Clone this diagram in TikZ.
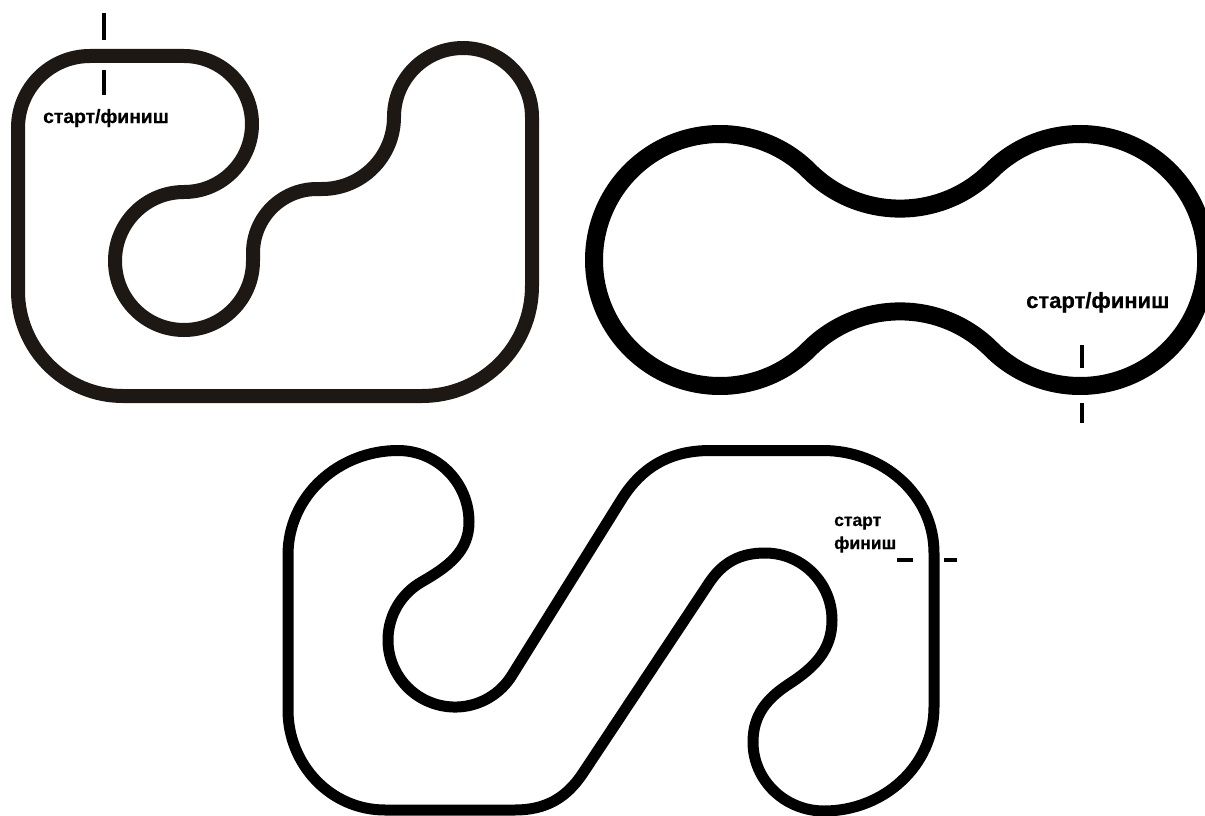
\documentclass[tikz,border=0pt]{standalone}
\usepackage{fontspec}
\setmainfont{Liberation Sans}
\newfontfamily\lblfont[BoldFeatures={FakeBold=0.6}]{Liberation Sans}
\definecolor{trackA}{RGB}{30,24,20}
\begin{document}
\begin{tikzpicture}[x=1pt,y=1pt,
  trackone/.style={draw=trackA,line width=14pt,line join=round},
  tracktwo/.style={draw=black,line width=18pt,line join=round},
  trackthree/.style={draw=black,line width=11pt,line join=round},
  tick/.style={draw=black,line width=4pt},
  lbl/.style={anchor=base west,inner sep=0pt}]
\useasboundingbox (0,0) rectangle (1205,-816);
\fill[white] (0,0) rectangle (1205,-816);

% ---------- track 1 (top left) ----------
\draw[trackone] (90,-56) -- (184,-56)
  arc[start angle=90,end angle=-90,radius=68]
  arc[start angle=90,end angle=360,radius=69]
  -- (253,-253)
  arc[start angle=180,end angle=90,radius=64]
  -- (322,-189)
  arc[start angle=-90,end angle=0,radius=72]
  arc[start angle=180,end angle=0,radius=69]
  -- (532,-286)
  arc[start angle=0,end angle=-90,radius=110]
  -- (123,-396)
  arc[start angle=-90,end angle=-180,radius=105]
  -- (18,-128)
  arc[start angle=180,end angle=90,radius=72]
  -- cycle;
\draw[tick] (103.7,-13) -- (103.7,-40);
\draw[tick] (103.7,-70) -- (103.7,-95);
\node[lbl,font=\lblfont\bfseries\fontsize{19.3}{22}\selectfont] (l1) at (43,-123) {старт/финиш};

% ---------- track 2 (dumbbell, right) ----------
\draw[tracktwo] (809.1,-170.9)
  arc[start angle=45,end angle=315,radius=126]
  arc[start angle=135,end angle=45,radius=128.7]
  arc[start angle=225,end angle=495,radius=126]
  arc[start angle=-45,end angle=-135,radius=128.7]
  -- cycle;
\draw[tick,line width=4.5pt] (1082,-345) -- (1082,-368);
\draw[tick,line width=4.5pt] (1082,-403) -- (1082,-423);
\node[lbl,font=\lblfont\bfseries\fontsize{22}{25}\selectfont] (l2) at (1026,-308) {старт/финиш};

% ---------- track 3 (bottom) ----------
\draw[trackthree] (288,-555) to[out=90,in=180] (398,-450.5)
  to[out=0,in=90] (469,-522)
  to[out=-90,in=30] (421.5,-582)
  arc[start angle=120,end angle=328.5,radius=67]
  -- (620.7,-500.8) to[out=58.5,in=180] (710.5,-450.5)
  -- (823,-450.5) to[out=0,in=90] (934,-553)
  -- (934,-707) to[out=-90,in=0] (824,-811)
  to[out=180,in=-90] (753,-742)
  to[out=90,in=213] (789,-684)
  to[out=33,in=-90] (832,-620)
  to[out=90,in=0] (765,-553)
  to[out=180,in=56.5] (709,-583)
  -- (583,-773) to[out=236.5,in=0] (515,-810)
  -- (385,-810) to[out=180,in=-90] (288,-710)
  -- cycle;
\draw[tick,line width=3.5pt] (897,-560) -- (913,-560);
\draw[tick,line width=3.5pt] (944,-560) -- (957,-560);
\node[lbl,font=\lblfont\bfseries\fontsize{17.5}{20}\selectfont] (l3a) at (834,-526) {старт};
\node[lbl,font=\lblfont\bfseries\fontsize{17.5}{20}\selectfont] (l3b) at (834,-549) {финиш};
\end{tikzpicture}
\end{document}
